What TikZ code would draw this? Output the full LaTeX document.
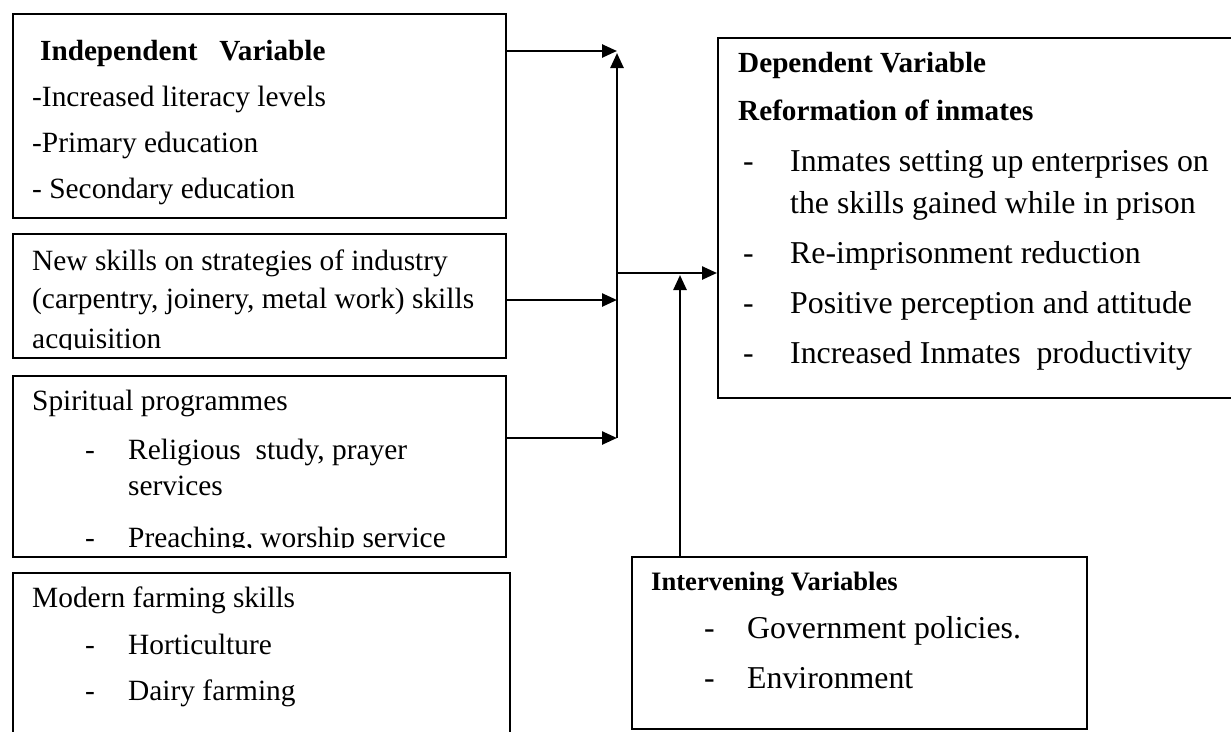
\documentclass[tikz,border=0pt]{standalone}
\usepackage{fontspec}
\setmainfont{Liberation Serif}
\usetikzlibrary{arrows.meta}

\begin{document}
\begin{tikzpicture}[
  x=1pt, y=-1pt,
  box/.style={rectangle, draw, line width=2pt, anchor=north west, inner sep=0pt},
  txt/.style={anchor=base west, inner sep=0pt, font=\fontsize{29.4}{35}\selectfont},
  big/.style={txt, font=\fontsize{31.8}{38}\selectfont},
  hd/.style={txt, font=\fontsize{29.2}{35}\selectfont\bfseries},
  arr/.style={-{Triangle[length=15pt, width=13pt]}, line width=2.5pt},
  ]
  \clip (0,0) rectangle (1231,731);

  %% Boxes: four inputs on the left, dependent top right, intervening below
  \node[box, minimum width=493pt, minimum height=204pt] (indep)  at (12,13)  {};
  \node[box, minimum width=493pt, minimum height=124pt] (skills) at (12,233) {};
  \node[box, minimum width=493pt, minimum height=181pt] (spirit) at (12,375) {};
  \node[box, minimum width=497pt, minimum height=190pt] (farm)   at (12,572) {};
  \node[box, minimum width=540pt, minimum height=360pt] (dep)    at (717,37) {};
  \node[box, minimum width=455pt, minimum height=172pt] (interv) at (631,556) {};

  %% Independent variable
  \node[hd]  (indephd) at (40,60)  {Independent\ \ \ Variable};
  \node[txt] (lit)     at (32,106) {-Increased literacy levels};
  \node[txt] (prim)    at (32,152) {-Primary education};
  \node[txt] (sec)     at (32,198) {- Secondary education};

  %% Industry skills (last line cut by the box)
  \begin{scope}
    \clip ([yshift=10pt]skills.south west) rectangle (skills.north east);
    \node[txt] (sk1) at (32,270) {New skills on strategies of industry};
    \node[txt] (sk2) at (32,308) {(carpentry, joinery, metal work) skills};
    \node[txt] (sk3) at (32,348) {acquisition};
  \end{scope}

  %% Spiritual programmes
  \begin{scope}
    \clip ([yshift=11pt]spirit.south west) rectangle (spirit.north east);
    \node[txt] (sp)   at (32,410)  {Spiritual programmes};
    \node[txt] (spd1) at (85,459)  {-};
    \node[txt] (sp1)  at (128,459) {Religious\ \ study, prayer};
    \node[txt] (sp1b) at (128,495) {services};
    \node[txt] (spd2) at (85,547)  {-};
    \node[txt] (sp2)  at (128,547) {Preaching, worship service};
  \end{scope}

  %% Farming
  \node[txt] (fm)   at (32,607)  {Modern farming skills};
  \node[txt] (fmd1) at (85,654)  {-};
  \node[txt] (fm1)  at (128,654) {Horticulture};
  \node[txt] (fmd2) at (85,700)  {-};
  \node[txt] (fm2)  at (128,700) {Dairy farming};

  %% Dependent variable
  \node[hd]  (dephd) at (738,72)  {Dependent Variable};
  \node[hd]  (ref)   at (738,120) {Reformation of inmates};
  \node[big] (dd1)   at (743,171) {-};
  \node[big] (d1)    at (790,171) {Inmates setting up enterprises on};
  \node[big] (d1b)   at (790,213) {the skills gained while in prison};
  \node[big] (dd2)   at (743,263) {-};
  \node[big] (d2)    at (790,263) {Re-imprisonment reduction};
  \node[big] (dd3)   at (743,313) {-};
  \node[big] (d3)    at (790,313) {Positive perception and attitude};
  \node[big] (dd4)   at (743,363) {-};
  \node[big] (d4)    at (790,363) {Increased Inmates\ \ productivity};

  %% Intervening variables
  \node[hd, font=\fontsize{26.6}{32}\selectfont\bfseries] (inthd) at (651,590) {Intervening Variables};
  \node[big] (id1) at (704,638) {-};
  \node[big] (i1)  at (747,638) {Government policies.};
  \node[big] (id2) at (704,688) {-};
  \node[big] (i2)  at (747,688) {Environment};

  %% Connectors
  \coordinate (t1)  at (617,51);
  \coordinate (top) at (617,53);
  \coordinate (t2)  at (617,300);
  \coordinate (t3)  at (617,438);
  \coordinate (hub) at (617,273);
  \coordinate (up)  at (680,275);
  \draw[arr] (indep.east |- t1)  -- (t1);
  \draw[arr] (skills.east |- t2) -- (t2);
  \draw[arr] (spirit.east |- t3) -- (t3);
  \draw[arr] (t3) -- (top);
  \draw[arr] (hub) -- (hub -| dep.west);
  \draw[arr] (interv.north -| up) -- (up);
\end{tikzpicture}
\end{document}
